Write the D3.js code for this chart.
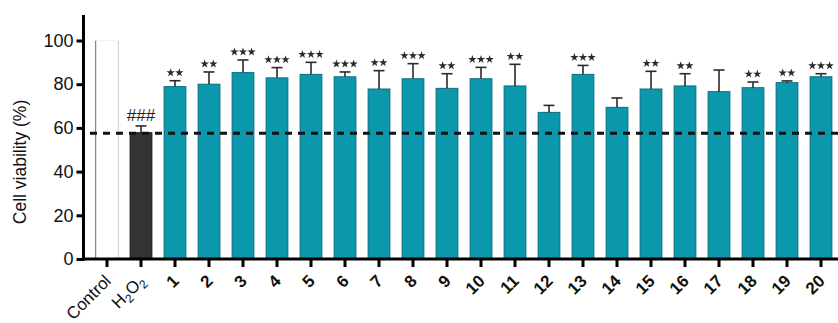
<!DOCTYPE html>
<html>
<head>
<meta charset="utf-8">
<script src="https://cdn.jsdelivr.net/npm/d3@7"></script>
<style>
  html, body { margin: 0; padding: 0; background: #fff; }
  svg { display: block; font-family: "Liberation Sans", Arial, sans-serif; }
</style>
</head>
<body>
<svg id="chart" width="838" height="323"></svg>
<script>
// Groups along the x axis
const categories = ["Control", "H2O2", "1", "2", "3", "4", "5", "6", "7", "8", "9", "10",
  "11", "12", "13", "14", "15", "16", "17", "18", "19", "20"];
// Mean cell viability (%)
const means = [100, 57.8, 78.9, 80.0, 85.3, 82.9, 84.5, 83.4, 77.8, 82.5, 78.1, 82.5,
  79.2, 67.1, 84.5, 69.4, 77.8, 79.2, 76.6, 78.4, 80.7, 83.4];
// Upper error (SD) above the mean
const errors = [0, 3.1, 2.7, 5.6, 5.8, 4.7, 5.5, 2.2, 8.4, 6.9, 6.7, 5.2,
  9.9, 3.2, 4.1, 4.3, 8.1, 5.6, 9.9, 2.6, 0.8, 1.4];
// Significance marks
const marks = ["", "###", "**", "**", "***", "***", "***", "***", "**", "***", "**", "***",
  "**", "", "***", "", "**", "**", "", "**", "**", "***"];
// Level of the H2O2 group shown as a reference line
const refLevel = 57.6;
const yTicks = [0, 20, 40, 60, 80, 100];

const svg = d3.select("#chart");
const x = d3.scaleBand().domain(categories).range([90, 838]).paddingInner(0.33).paddingOuter(0.165);
const y = d3.scaleLinear().domain([0, 100]).range([259, 40.5]);
const teal = "#0b98ad", tealDark = "#08707f";

// Bars
const bars = svg.append("g");
categories.forEach((c, i) => {
  const x0 = x(c), w = x.bandwidth();
  if (c === "Control") {
    bars.append("rect").attr("x", x0).attr("y", y(means[i])).attr("width", w)
      .attr("height", y(0) - y(means[i])).attr("fill", "#fff");
    bars.append("line").attr("x1", x0).attr("x2", x0).attr("y1", y(means[i])).attr("y2", y(0))
      .attr("stroke", "#8a8a8a").attr("stroke-width", 1.3);
    bars.append("line").attr("x1", x0 + w).attr("x2", x0 + w).attr("y1", y(means[i])).attr("y2", y(0))
      .attr("stroke", "#d8d8d8").attr("stroke-width", 1.3);
    bars.append("line").attr("x1", x0).attr("x2", x0 + w).attr("y1", y(means[i])).attr("y2", y(means[i]))
      .attr("stroke", "#f2f2f2").attr("stroke-width", 1);
  } else {
    const dark = c === "H2O2";
    bars.append("rect").attr("x", x0 + 0.5).attr("y", y(means[i])).attr("width", w - 1)
      .attr("height", y(0) - y(means[i]))
      .attr("fill", dark ? "#333333" : teal)
      .attr("stroke", dark ? "#1a1a1a" : tealDark).attr("stroke-width", 1);
  }
});

// Error bars (upper only)
const err = svg.append("g").attr("stroke", "#2a2a2a").attr("stroke-width", 1.6);
categories.forEach((c, i) => {
  if (!errors[i]) return;
  const cx = x(c) + x.bandwidth() / 2;
  const top = y(means[i] + errors[i]);
  err.append("line").attr("x1", cx).attr("x2", cx).attr("y1", y(means[i])).attr("y2", top);
  err.append("line").attr("x1", cx - 5.5).attr("x2", cx + 5.5).attr("y1", top).attr("y2", top);
});

// Reference dashed line
svg.append("line").attr("x1", 90).attr("x2", 838).attr("y1", y(refLevel)).attr("y2", y(refLevel))
  .attr("stroke", "#111").attr("stroke-width", 3).attr("stroke-dasharray", "7,6");

// Significance labels
categories.forEach((c, i) => {
  if (!marks[i]) return;
  const cx = x(c) + x.bandwidth() / 2;
  const top = y(means[i] + errors[i]);
  if (marks[i].startsWith("#")) {
    svg.append("text").attr("x", cx).attr("y", top - 5).attr("text-anchor", "middle")
      .attr("font-size", 17).attr("fill", "#222").text(marks[i]);
  } else {
    const n = marks[i].length, gap = 8.6;
    for (let k = 0; k < n; k++) {
      svg.append("path")
        .attr("d", d3.symbol(d3.symbolStar, 22)())
        .attr("transform", `translate(${cx + (k - (n - 1) / 2) * gap},${top - 8})`)
        .attr("fill", "#2a2a2a");
    }
  }
});

// Y axis
const yAxis = svg.append("g").attr("transform", "translate(83.5,0)")
  .call(d3.axisLeft(y).tickValues(yTicks).tickSize(7).tickPadding(3));
yAxis.select(".domain").remove();
yAxis.selectAll(".tick line").attr("stroke", "#000").attr("stroke-width", 3);
yAxis.selectAll(".tick text").attr("font-size", 18).attr("fill", "#111")
  .attr("font-family", "'Liberation Sans', Arial, sans-serif");
svg.append("line").attr("x1", 83.5).attr("x2", 83.5).attr("y1", 15).attr("y2", 260.5)
  .attr("stroke", "#000").attr("stroke-width", 3);

// X axis
const xAxis = svg.append("g").attr("transform", "translate(0,259)")
  .call(d3.axisBottom(x).tickSize(8).tickFormat(""));
xAxis.select(".domain").remove();
xAxis.selectAll(".tick line").attr("stroke", "#000").attr("stroke-width", 3);
svg.append("line").attr("x1", 82).attr("x2", 838).attr("y1", 259).attr("y2", 259)
  .attr("stroke", "#000").attr("stroke-width", 3);

// Rotated category labels
categories.forEach(c => {
  const cx = x(c) + x.bandwidth() / 2;
  const t = svg.append("text")
    .attr("transform", `translate(${cx + 5},${282}) rotate(-45)`)
    .attr("text-anchor", "end").attr("font-size", 17).attr("fill", "#111");
  if (c === "H2O2") {
    t.append("tspan").text("H");
    t.append("tspan").attr("font-size", 12).attr("dy", 4).text("2");
    t.append("tspan").attr("dy", -4).text("O");
    t.append("tspan").attr("font-size", 12).attr("dy", 4).text("2");
  } else if (c === "Control") {
    t.text(c);
  } else {
    t.attr("font-weight", "bold").text(c);
  }
});

// Y axis title
svg.append("text").attr("transform", "translate(26,162) rotate(-90)")
  .attr("text-anchor", "middle").attr("font-size", 17.5).attr("fill", "#111")
  .text("Cell viability (%)");
</script>
</body>
</html>
